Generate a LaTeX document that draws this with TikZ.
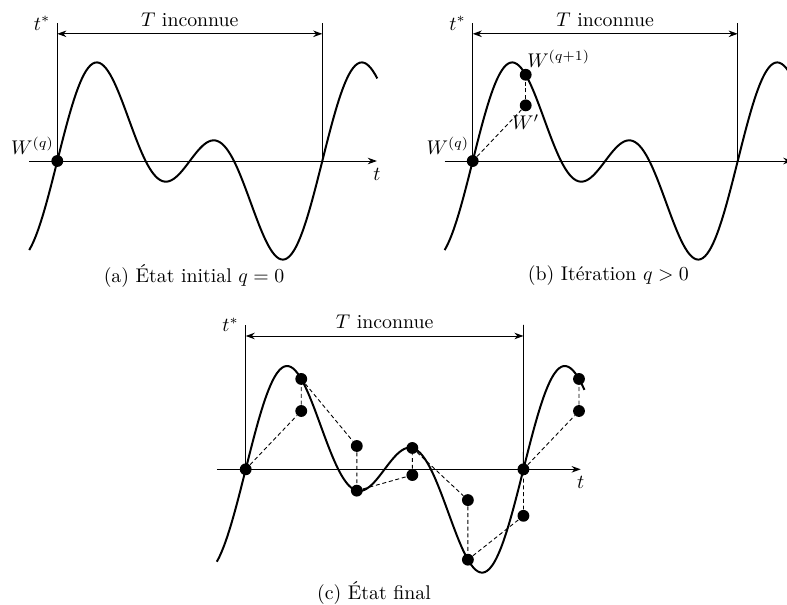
\documentclass[tikz,border=0pt]{standalone}
\usepackage{amsmath}
\usetikzlibrary{arrows.meta,positioning}
\tikzset{
  timeaxis/.style={
    -{Stealth[length=4.6pt,width=3.3pt,inset=1.5pt]},
    line width=0.45pt
  },
  periodline/.style={
    {Stealth[length=4.6pt,width=3.3pt,inset=1.5pt]}-{Stealth[length=4.6pt,width=3.3pt,inset=1.5pt]},
    line width=0.45pt
  },
  boundline/.style={line width=0.45pt},
  signal/.style={line width=1pt,smooth,samples=160},
  iterdot/.style={
    circle,
    fill=black,
    inner sep=0pt,
    minimum size=2.1mm
  },
  updateline/.style={line width=0.45pt,dash pattern=on 2pt off 1.4pt}
}

\begin{document}
\begin{tikzpicture}[x=0.94cm,y=0.94cm]
  \useasboundingbox (0,0) rectangle (14.849,11.415);

  % (a) etat initial
  \begin{scope}[shift={(1.081,8.377)}]
    \coordinate (a-ax0) at (-0.53,0);
    \coordinate (a-ax1) at (6.03,0);
    \coordinate (a-top0) at (0,2.6);
    \coordinate (a-top1) at (5,2.6);
    \coordinate (a-end) at (5,0);
    \coordinate (a-per0) at (0,2.4);
    \coordinate (a-per1) at (5,2.4);
    \draw[signal] plot[domain=-0.53:6.04] (\x,{1.057*(sin(72*\x)+sin(144*\x))});
    \draw[timeaxis] (a-ax0) -- (a-ax1) node[below] (a-t) {$t$};
    \draw[boundline] (a-end) -- (a-top1);
    \draw[boundline] (0,0) -- (a-top0) node[left] (a-ts) {$t^*$};
    \draw[periodline] (a-per0) -- node[above] (a-T) {$T$ inconnue} (a-per1);
    \node[iterdot] (a-w0) at (0,0) {};
    \node[above left=-2.5pt and -4pt of a-w0] (a-l0) {$W^{(q)}$};
    \node (a-cap) at (2.58,-2.17) {(a) État initial $q=0$};
  \end{scope}

  % (b) iteration
  \begin{scope}[shift={(8.919,8.377)}]
    \coordinate (b-ax0) at (-0.53,0);
    \coordinate (b-ax1) at (6.03,0);
    \coordinate (b-top0) at (0,2.6);
    \coordinate (b-top1) at (5,2.6);
    \coordinate (b-end) at (5,0);
    \coordinate (b-per0) at (0,2.4);
    \coordinate (b-per1) at (5,2.4);
    \draw[signal] plot[domain=-0.53:6.04] (\x,{1.057*(sin(72*\x)+sin(144*\x))});
    \draw[timeaxis] (b-ax0) -- (b-ax1);
    \draw[boundline] (b-end) -- (b-top1);
    \draw[boundline] (0,0) -- (b-top0) node[left] (b-ts) {$t^*$};
    \draw[periodline] (b-per0) -- node[above] (b-T) {$T$ inconnue} (b-per1);
    \node[iterdot] (b-w0) at (0,0) {};
    \node[iterdot] (b-p1) at (1,1.05) {};
    \node[iterdot] (b-w1) at (1,1.627) {};
    \draw[updateline] (b-w0) -- (b-p1);
    \draw[updateline] (b-p1) -- (b-w1);
    \node[above left=-2.5pt and -4pt of b-w0] (b-l0) {$W^{(q)}$};
    \node[above right=-2pt and -5pt of b-w1] (b-l1) {$W^{(q+1)}$};
    \node[below=-2pt of b-p1] (b-lp) {$W'$};
    \node (b-cap) at (2.56,-2.17) {(b) Itération $q>0$};
  \end{scope}

  % (c) etat final
  \begin{scope}[shift={(4.636,2.560)},scale=1.048]
    \coordinate (c-ax0) at (-0.52,0);
    \coordinate (c-ax1) at (6.03,0);
    \coordinate (c-top0) at (0,2.6);
    \coordinate (c-top1) at (5,2.6);
    \coordinate (c-per0) at (0,2.4);
    \coordinate (c-per1) at (5,2.4);
    \draw[signal] plot[domain=-0.52:6.1] (\x,{1.057*(sin(72*\x)+sin(144*\x))});
    \draw[timeaxis] (c-ax0) -- (c-ax1) node[below] (c-t) {$t$};
    \draw[boundline] (5,0) -- (c-top1);
    \draw[boundline] (0,0) -- (c-top0) node[left] (c-ts) {$t^*$};
    \draw[periodline] (c-per0) -- node[above] (c-T) {$T$ inconnue} (c-per1);
    \node[iterdot] (c-w0) at (0,0) {};
    \node[iterdot] (c-p1) at (1,1.05) {};
    \node[iterdot] (c-w1) at (1,1.627) {};
    \node[iterdot] (c-p2) at (2,0.42) {};
    \node[iterdot] (c-w2) at (2,-0.384) {};
    \node[iterdot] (c-p3) at (3,-0.103) {};
    \node[iterdot] (c-w3) at (3,0.384) {};
    \node[iterdot] (c-p4) at (4,-0.554) {};
    \node[iterdot] (c-w4) at (4,-1.627) {};
    \node[iterdot] (c-p5) at (5,-0.837) {};
    \node[iterdot] (c-w5) at (5,0) {};
    \node[iterdot] (c-p6) at (6,1.05) {};
    \node[iterdot] (c-w6) at (6,1.627) {};
    \draw[updateline] (c-w0) -- (c-p1);
    \draw[updateline] (c-p1) -- (c-w1);
    \draw[updateline] (c-w1) -- (c-p2);
    \draw[updateline] (c-p2) -- (c-w2);
    \draw[updateline] (c-w2) -- (c-p3);
    \draw[updateline] (c-p3) -- (c-w3);
    \draw[updateline] (c-w3) -- (c-p4);
    \draw[updateline] (c-p4) -- (c-w4);
    \draw[updateline] (c-w4) -- (c-p5);
    \draw[updateline] (c-p5) -- (c-w5);
    \draw[updateline] (c-w5) -- (c-p6);
    \draw[updateline] (c-p6) -- (c-w6);
    \node (c-cap) at (2.31,-2.23) {(c) État final};
  \end{scope}
\end{tikzpicture}
\end{document}
